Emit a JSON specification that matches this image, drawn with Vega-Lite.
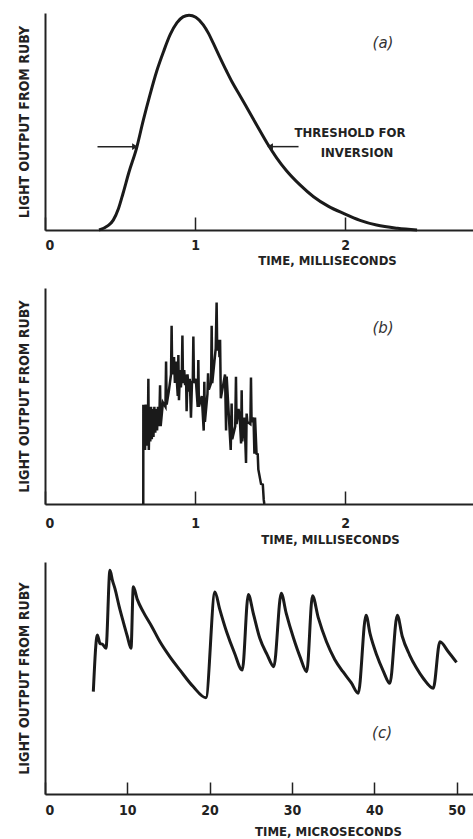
{
  "$schema": "https://vega.github.io/schema/vega-lite/v6.json",
  "padding": {"left": 17, "top": 9, "right": 0, "bottom": 0},
  "background": "white",
  "config": {
    "view": {"stroke": null},
    "font": "DejaVu Sans Condensed",
    "axis": {
      "grid": false,
      "domainColor": "#222222",
      "domainWidth": 2,
      "tickColor": "#222222",
      "tickWidth": 1.5,
      "labelFont": "DejaVu Sans Condensed",
      "labelFontSize": 14,
      "labelFontWeight": "bold",
      "labelColor": "#222222",
      "titleFont": "DejaVu Sans Condensed",
      "titleFontSize": 13,
      "titleFontWeight": "bold",
      "titleColor": "#222222"
    },
    "axisY": {"titleFontSize": 14}
  },
  "spacing": 58,
  "bounds": "flush",
  "vconcat": [
    {
      "width": 428,
      "height": 217,
      "layer": [
        {
          "data": {"values": [
            {"t": 0.36, "v": 0}, {"t": 0.42, "v": 0.02}, {"t": 0.455, "v": 0.046}, {"t": 0.49, "v": 0.1},
            {"t": 0.52, "v": 0.17}, {"t": 0.56, "v": 0.27}, {"t": 0.61, "v": 0.38}, {"t": 0.655, "v": 0.51},
            {"t": 0.7, "v": 0.63}, {"t": 0.745, "v": 0.74}, {"t": 0.79, "v": 0.83}, {"t": 0.835, "v": 0.91},
            {"t": 0.88, "v": 0.965}, {"t": 0.92, "v": 0.992}, {"t": 0.96, "v": 1.0}, {"t": 1.005, "v": 0.99},
            {"t": 1.055, "v": 0.955}, {"t": 1.09, "v": 0.915}, {"t": 1.12, "v": 0.872}, {"t": 1.165, "v": 0.805},
            {"t": 1.21, "v": 0.74}, {"t": 1.25, "v": 0.685}, {"t": 1.3, "v": 0.625}, {"t": 1.345, "v": 0.57}, {"t": 1.41, "v": 0.49},
            {"t": 1.48, "v": 0.405}, {"t": 1.545, "v": 0.335}, {"t": 1.61, "v": 0.276}, {"t": 1.7, "v": 0.21},
            {"t": 1.79, "v": 0.155}, {"t": 1.89, "v": 0.11}, {"t": 1.99, "v": 0.077}, {"t": 2.1, "v": 0.045},
            {"t": 2.21, "v": 0.023}, {"t": 2.35, "v": 0.008}, {"t": 2.48, "v": 0}
          ]},
          "mark": {"type": "line", "interpolate": "monotone", "color": "#1a1a1a", "strokeWidth": 3},
          "encoding": {
            "x": {"field": "t", "type": "quantitative", "scale": {"domain": [0, 2.853], "nice": false},
              "axis": {"values": [0, 1, 2], "format": "d", "tickSize": -13, "labelPadding": 21, "title": "TIME, MILLISECONDS",
                "titleX": 282, "titleY": 30, "titleAlign": "center", "titleBaseline": "middle"}},
            "y": {"field": "v", "type": "quantitative", "scale": {"domain": [0, 1.01], "nice": false},
              "axis": {"title": "LIGHT OUTPUT FROM RUBY", "ticks": false, "labels": false, "titlePadding": 14}}
          }
        },
        {
          "data": {"values": [{"t1": 0.35, "t2": 0.6, "v": 0.388}, {"t1": 1.5, "t2": 1.69, "v": 0.388}]},
          "mark": {"type": "rule", "color": "#222222", "strokeWidth": 1.5},
          "encoding": {
            "x": {"field": "t1", "type": "quantitative"},
            "x2": {"field": "t2"},
            "y": {"field": "v", "type": "quantitative"}
          }
        },
        {
          "data": {"values": [{"t": 0.6, "v": 0.388}]},
          "mark": {"type": "point", "shape": "triangle-right", "filled": true, "size": 45, "color": "#222222", "opacity": 1},
          "encoding": {"x": {"field": "t", "type": "quantitative"}, "y": {"field": "v", "type": "quantitative"}}
        },
        {
          "data": {"values": [{"t": 1.5, "v": 0.388}]},
          "mark": {"type": "point", "shape": "triangle-left", "filled": true, "size": 45, "color": "#222222", "opacity": 1},
          "encoding": {"x": {"field": "t", "type": "quantitative"}, "y": {"field": "v", "type": "quantitative"}}
        },
        {
          "data": {"values": [{"t": 2.033, "v": 0.452, "label": "THRESHOLD FOR"}, {"t": 2.08, "v": 0.359, "label": "INVERSION"}]},
          "mark": {"type": "text", "font": "DejaVu Sans Condensed", "fontSize": 13, "fontWeight": "bold", "color": "#222222", "align": "center", "baseline": "middle"},
          "encoding": {"x": {"field": "t", "type": "quantitative"}, "y": {"field": "v", "type": "quantitative"}, "text": {"field": "label"}}
        },
        {
          "data": {"values": [{"t": 2.253, "v": 0.871, "label": "(a)"}]},
          "mark": {"type": "text", "font": "DejaVu Sans", "fontSize": 15, "fontStyle": "italic", "color": "#333333", "align": "center", "baseline": "middle"},
          "encoding": {"x": {"field": "t", "type": "quantitative"}, "y": {"field": "v", "type": "quantitative"}, "text": {"field": "label"}}
        }
      ]
    },
    {
      "width": 428,
      "height": 216,
      "layer": [
        {
          "data": {"values": [
            {"t": 0.655, "v": 0}, {"t": 0.6555, "v": 0.46}, {"t": 0.659, "v": 0.26}, {"t": 0.663, "v": 0.45},
            {"t": 0.667, "v": 0.25}, {"t": 0.671, "v": 0.46}, {"t": 0.676, "v": 0.27}, {"t": 0.681, "v": 0.44},
            {"t": 0.685, "v": 0.28}, {"t": 0.689, "v": 0.58}, {"t": 0.692, "v": 0.25}, {"t": 0.697, "v": 0.42},
            {"t": 0.702, "v": 0.29}, {"t": 0.707, "v": 0.45}, {"t": 0.712, "v": 0.3}, {"t": 0.718, "v": 0.44},
            {"t": 0.723, "v": 0.31}, {"t": 0.729, "v": 0.45}, {"t": 0.735, "v": 0.33}, {"t": 0.741, "v": 0.44},
            {"t": 0.747, "v": 0.34}, {"t": 0.753, "v": 0.45}, {"t": 0.758, "v": 0.36}, {"t": 0.763, "v": 0.42},
            {"t": 0.767, "v": 0.55}, {"t": 0.771, "v": 0.36}, {"t": 0.786, "v": 0.47}, {"t": 0.803, "v": 0.45},
            {"t": 0.807, "v": 0.66}, {"t": 0.811, "v": 0.46}, {"t": 0.825, "v": 0.52}, {"t": 0.84, "v": 0.6},
            {"t": 0.844, "v": 0.825}, {"t": 0.848, "v": 0.6}, {"t": 0.86, "v": 0.68}, {"t": 0.866, "v": 0.56},
            {"t": 0.872, "v": 0.66}, {"t": 0.878, "v": 0.58}, {"t": 0.885, "v": 0.5}, {"t": 0.889, "v": 0.69},
            {"t": 0.893, "v": 0.48}, {"t": 0.9, "v": 0.62}, {"t": 0.906, "v": 0.54}, {"t": 0.912, "v": 0.6},
            {"t": 0.916, "v": 0.78}, {"t": 0.92, "v": 0.56}, {"t": 0.928, "v": 0.62}, {"t": 0.934, "v": 0.55},
            {"t": 0.94, "v": 0.6}, {"t": 0.944, "v": 0.43}, {"t": 0.95, "v": 0.6}, {"t": 0.958, "v": 0.52},
            {"t": 0.965, "v": 0.58}, {"t": 0.973, "v": 0.4}, {"t": 0.98, "v": 0.57}, {"t": 0.985, "v": 0.56},
            {"t": 0.989, "v": 0.775}, {"t": 0.993, "v": 0.56}, {"t": 1.005, "v": 0.58}, {"t": 1.018, "v": 0.45},
            {"t": 1.022, "v": 0.667}, {"t": 1.026, "v": 0.45}, {"t": 1.045, "v": 0.5}, {"t": 1.058, "v": 0.34},
            {"t": 1.062, "v": 0.566}, {"t": 1.066, "v": 0.38}, {"t": 1.083, "v": 0.51}, {"t": 1.087, "v": 0.605},
            {"t": 1.092, "v": 0.53}, {"t": 1.107, "v": 0.56}, {"t": 1.111, "v": 0.825}, {"t": 1.115, "v": 0.56},
            {"t": 1.138, "v": 0.72}, {"t": 1.144, "v": 0.933}, {"t": 1.148, "v": 0.71}, {"t": 1.158, "v": 0.76},
            {"t": 1.163, "v": 0.68}, {"t": 1.167, "v": 0.76}, {"t": 1.172, "v": 0.49}, {"t": 1.2, "v": 0.6},
            {"t": 1.207, "v": 0.34}, {"t": 1.211, "v": 0.59}, {"t": 1.238, "v": 0.25}, {"t": 1.244, "v": 0.465},
            {"t": 1.248, "v": 0.3}, {"t": 1.268, "v": 0.36}, {"t": 1.273, "v": 0.589}, {"t": 1.277, "v": 0.37},
            {"t": 1.29, "v": 0.44}, {"t": 1.298, "v": 0.4}, {"t": 1.307, "v": 0.28}, {"t": 1.311, "v": 0.527},
            {"t": 1.315, "v": 0.29}, {"t": 1.33, "v": 0.4}, {"t": 1.34, "v": 0.19}, {"t": 1.344, "v": 0.419},
            {"t": 1.349, "v": 0.38}, {"t": 1.369, "v": 0.37}, {"t": 1.373, "v": 0.586}, {"t": 1.377, "v": 0.38},
            {"t": 1.39, "v": 0.4}, {"t": 1.396, "v": 0.233}, {"t": 1.4, "v": 0.4}, {"t": 1.41, "v": 0.233},
            {"t": 1.418, "v": 0.23}, {"t": 1.422, "v": 0.16}, {"t": 1.44, "v": 0.093}, {"t": 1.452, "v": 0.09},
            {"t": 1.458, "v": 0.02}, {"t": 1.462, "v": 0}
          ]},
          "mark": {"type": "line", "color": "#1a1a1a", "strokeWidth": 2.5},
          "encoding": {
            "x": {"field": "t", "type": "quantitative", "scale": {"domain": [0, 2.853], "nice": false},
              "axis": {"values": [0, 1, 2], "format": "d", "tickSize": -13, "labelPadding": 25, "title": "TIME, MILLISECONDS",
                "titleX": 285, "titleY": 35, "titleAlign": "center", "titleBaseline": "middle"}},
            "y": {"field": "v", "type": "quantitative", "scale": {"domain": [0, 1], "nice": false},
              "axis": {"title": "LIGHT OUTPUT FROM RUBY", "ticks": false, "labels": false, "titlePadding": 14}}
          }
        },
        {
          "data": {"values": [{"t": 2.253, "v": 0.814, "label": "(b)"}]},
          "mark": {"type": "text", "font": "DejaVu Sans", "fontSize": 15, "fontStyle": "italic", "color": "#333333", "align": "center", "baseline": "middle"},
          "encoding": {"x": {"field": "t", "type": "quantitative"}, "y": {"field": "v", "type": "quantitative"}, "text": {"field": "label"}}
        }
      ]
    },
    {
      "width": 428,
      "height": 232,
      "layer": [
        {
          "data": {"values": [
            {"t": 5.87, "v": 0.441}, {"t": 6.36, "v": 0.685}, {"t": 6.5, "v": 0.67}, {"t": 6.68, "v": 0.649},
            {"t": 7.0, "v": 0.645}, {"t": 7.41, "v": 0.628}, {"t": 7.89, "v": 0.964}, {"t": 8.2, "v": 0.92},
            {"t": 8.5, "v": 0.885}, {"t": 9.0, "v": 0.81}, {"t": 9.51, "v": 0.742}, {"t": 10.0, "v": 0.68},
            {"t": 10.45, "v": 0.628}, {"t": 10.73, "v": 0.893}, {"t": 11.2, "v": 0.84}, {"t": 11.94, "v": 0.785},
            {"t": 13.0, "v": 0.72}, {"t": 13.97, "v": 0.656}, {"t": 15.2, "v": 0.59}, {"t": 16.4, "v": 0.534},
            {"t": 18.0, "v": 0.463}, {"t": 19.55, "v": 0.415}, {"t": 20.65, "v": 0.871}, {"t": 21.2, "v": 0.8},
            {"t": 22.06, "v": 0.699}, {"t": 23.0, "v": 0.61}, {"t": 23.97, "v": 0.534}, {"t": 24.7, "v": 0.86},
            {"t": 25.3, "v": 0.78}, {"t": 26.1, "v": 0.671}, {"t": 27.0, "v": 0.6}, {"t": 27.8, "v": 0.549},
            {"t": 28.7, "v": 0.865}, {"t": 29.3, "v": 0.78}, {"t": 30.2, "v": 0.671}, {"t": 31.0, "v": 0.59},
            {"t": 31.8, "v": 0.527}, {"t": 32.5, "v": 0.854}, {"t": 33.2, "v": 0.76}, {"t": 34.2, "v": 0.656},
            {"t": 35.2, "v": 0.58}, {"t": 36.2, "v": 0.527}, {"t": 37.2, "v": 0.48}, {"t": 38.06, "v": 0.434},
            {"t": 39.0, "v": 0.771}, {"t": 39.5, "v": 0.69}, {"t": 40.3, "v": 0.599}, {"t": 41.1, "v": 0.53},
            {"t": 41.9, "v": 0.477}, {"t": 42.8, "v": 0.771}, {"t": 43.4, "v": 0.68}, {"t": 44.3, "v": 0.599},
            {"t": 45.1, "v": 0.545}, {"t": 45.95, "v": 0.499}, {"t": 47.17, "v": 0.456}, {"t": 47.98, "v": 0.656},
            {"t": 49.0, "v": 0.613}, {"t": 50.0, "v": 0.567}
          ]},
          "mark": {"type": "line", "interpolate": "monotone", "color": "#1a1a1a", "strokeWidth": 3},
          "encoding": {
            "x": {"field": "t", "type": "quantitative", "scale": {"domain": [0, 52], "nice": false},
              "axis": {"values": [0, 10, 20, 30, 40, 50], "format": "d", "tickSize": -12, "labelPadding": 21, "title": "TIME, MICROSECONDS",
                "titleX": 283, "titleY": 37, "titleAlign": "center", "titleBaseline": "middle"}},
            "y": {"field": "v", "type": "quantitative", "scale": {"domain": [0, 1], "nice": false},
              "axis": {"title": "LIGHT OUTPUT FROM RUBY", "ticks": false, "labels": false, "titlePadding": 14}}
          }
        },
        {
          "data": {"values": [{"t": 40.95, "v": 0.263, "label": "(c)"}]},
          "mark": {"type": "text", "font": "DejaVu Sans", "fontSize": 15, "fontStyle": "italic", "color": "#333333", "align": "center", "baseline": "middle"},
          "encoding": {"x": {"field": "t", "type": "quantitative"}, "y": {"field": "v", "type": "quantitative"}, "text": {"field": "label"}}
        }
      ]
    }
  ]
}
